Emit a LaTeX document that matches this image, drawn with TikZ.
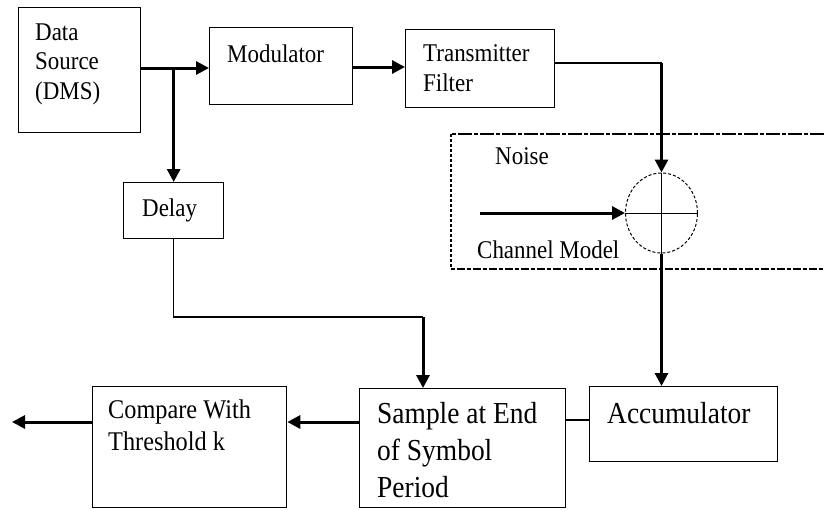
\documentclass[tikz,border=0pt]{standalone}
\usepackage{fontspec}
\setmainfont{Liberation Serif}[FakeStretch=0.9]
\usetikzlibrary{arrows.meta,shapes.geometric}
\tikzset{
  blk/.style={draw, line width=1.3pt, rectangle, inner sep=0pt, anchor=north west},
  % base anchor sits on the baseline of the last line
  lbl/.style={anchor=base west, inner sep=0pt, align=left},
  small/.style={font=\fontsize{25.5}{29.5}\selectfont},
  mid/.style={font=\fontsize{27}{32}\selectfont},
  big/.style={font=\fontsize{30.5}{37}\selectfont},
  sig/.style={line width=3pt, -{Triangle[length=13pt,width=13pt]}},
  wire/.style={line width=1.3pt},
}
\begin{document}
\begin{tikzpicture}[x=1pt,y=-1pt]
\useasboundingbox (0,0) rectangle (824,509);

% transmitter blocks
\node[blk, minimum width=122pt, minimum height=125pt] (ds) at (18,7) {};
\node[blk, minimum width=143pt, minimum height=77pt] (mod) at (209,27) {};
\node[blk, minimum width=149pt, minimum height=78pt] (tf) at (405,29) {};
\node[blk, minimum width=100pt, minimum height=56pt] (delay) at (123,182) {};

% receiver blocks
\node[blk, minimum width=188pt, minimum height=75pt] (acc) at (589,386) {};
\node[blk, minimum width=206pt, minimum height=119pt] (samp) at (359,388) {};
\node[blk, minimum width=194pt, minimum height=121pt] (cmp) at (92,386) {};

% labels
\node[lbl, small] (dsl) at (35,99) {Data\\Source\\(DMS)};
\node[lbl, small] (modl) at (227,62) {Modulator};
\node[lbl, small] (tfl) at (423,91) {Transmitter\\Filter};
\node[lbl, small] (dell) at (142,216) {Delay};
\node[lbl, small] (noisel) at (495,164) {Noise};
\node[lbl, small] (chl) at (477,258) {Channel Model};
\node[lbl, mid] (cmpl) at (108,450) {Compare With\\Threshold k};
\node[lbl, big] (sampl) at (377,497) {Sample at End\\of Symbol\\Period};
\node[lbl, big] (accl) at (607,423) {Accumulator};

% channel model frame (open towards the right edge)
\draw[line width=2.6pt, dash pattern=on 14pt off 2pt on 4pt off 2pt]
  (824,134) -- (451,134);
\draw[line width=1.6pt, densely dashed] (451,134) -- (451,269);
\draw[line width=2.6pt, dash pattern=on 4pt off 2pt on 8pt off 2pt]
  (451,269) -- (824,269);

% summing junction
\node[draw, ellipse, densely dashed, line width=1pt, minimum width=72pt,
      minimum height=80pt, inner sep=0pt] (sum) at (661.5,213) {};
\draw[line width=1pt] (sum.north) -- (sum.south);
\draw[line width=1pt] (sum.west) -- (sum.east);
\coordinate (noisein) at (480,213);
\draw[sig] (noisein) -- (sum.west);

% forward path
\coordinate (split) at (delay.north |- 0,68);
\draw[sig] (ds.east |- 0,68) -- (mod.west |- 0,68);
\draw[sig] (split) -- (delay.north);
\draw[sig] (mod.east |- 0,67) -- (tf.west |- 0,67);
\draw[wire] (tf.east |- 0,63) -- (sum.north |- 0,63);
\draw[sig] (sum.north |- 0,62.5) -- (sum.north);
\draw[sig] (sum.south) -- (sum.south |- acc.north);

% receiver path
\coordinate (dbend) at (delay.south |- 0,317);
\coordinate (sbend) at (423,317);
\draw[wire] (delay.south) -- (dbend) -- (sbend);
\draw[sig] (sbend) -- (sbend |- samp.north);
\draw[wire] (acc.west |- 0,420) -- (samp.east |- 0,420);
\draw[sig] (samp.west |- 0,422) -- (cmp.east |- 0,422);
\coordinate (out) at (12,422);
\draw[sig] (cmp.west |- 0,422) -- (out);
\end{tikzpicture}
\end{document}
